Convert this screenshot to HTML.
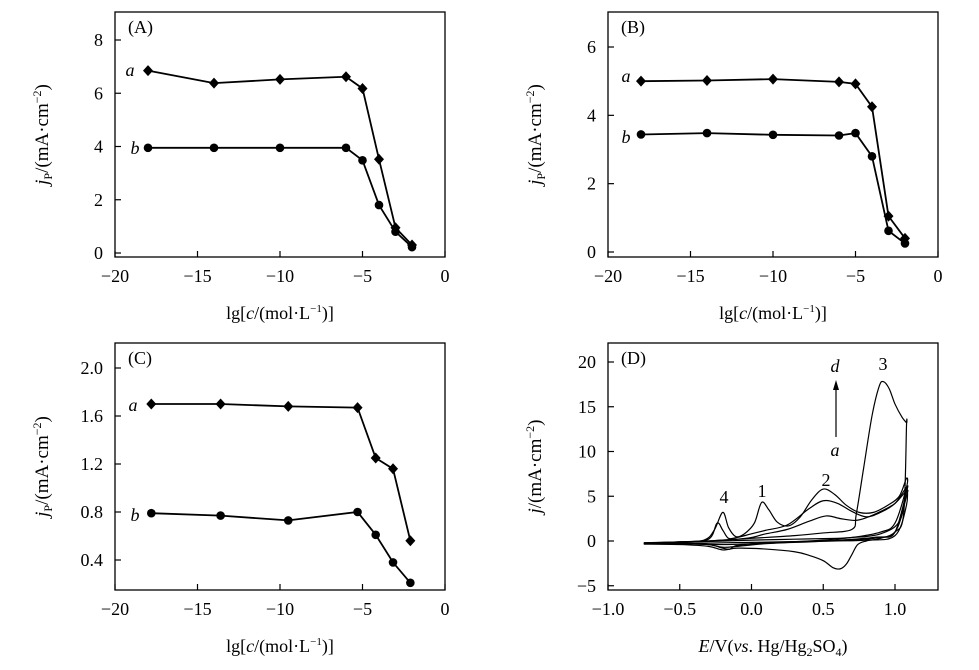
<!DOCTYPE html>
<html><head><meta charset="utf-8">
<style>
html,body{margin:0;padding:0;background:#fff;}
svg{display:block;font-family:"Liberation Serif",serif;}
</style></head>
<body>
<svg id="fig" width="979" height="670" viewBox="0 0 979 670" xmlns="http://www.w3.org/2000/svg"></svg>
<script>
// ---- Panel data ----
const xA = [-18,-14,-10,-6,-5,-4,-3,-2];
const aA = [6.85,6.38,6.52,6.62,6.18,3.52,0.95,0.3];
const bA = [3.95,3.95,3.95,3.95,3.48,1.8,0.8,0.22];
const xB = [-18,-14,-10,-6,-5,-4,-3,-2];
const aB = [5.0,5.02,5.06,4.98,4.92,4.25,1.05,0.4];
const bB = [3.44,3.48,3.43,3.41,3.48,2.8,0.62,0.25];
const xC = [-17.8,-13.6,-9.5,-5.3,-4.2,-3.15,-2.1];
const aC = [1.7,1.7,1.68,1.67,1.25,1.16,0.56];
const bC = [0.79,0.77,0.73,0.80,0.61,0.38,0.21];
const ticksXlg = [-20,-15,-10,-5,0];
const ticksYA = [0,2,4,6,8];
const ticksYB = [0,2,4,6];
const ticksYC = [0.4,0.8,1.2,1.6,2.0];
const ticksXD = [-1.0,-0.5,0,0.5,1.0];
const ticksYD = [-5,0,5,10,15,20];
// CV curves (E in V, j in mA/cm2)
const cvE1 = [-0.75,-0.5,-0.3,0,0.3,0.5,0.7,0.73,0.78,0.84,0.89,0.92,0.96,1.0,1.05,1.08,1.08,1.06,1.0,0.9,0.8,0.74,0.7,0.66,0.62,0.57,0.5,0.4,0.3,0.1,-0.1,-0.2,-0.3,-0.5,-0.75];
const cvJ1 = [-0.3,-0.2,0,0.3,0.6,0.9,1.3,3,8,14,17.3,17.8,17,15.3,13.8,13.2,12.8,3,1,0.3,0,-0.4,-1.5,-2.6,-3.1,-3,-2.2,-1.6,-1.2,-0.9,-0.8,-1,-0.6,-0.4,-0.35];
const cvE2 = [-0.75,-0.5,-0.33,-0.26,-0.2,-0.16,-0.11,-0.05,0.02,0.07,0.12,0.18,0.26,0.34,0.42,0.5,0.58,0.66,0.75,0.85,0.95,1.03,1.08,1.08,1.0,0.9,0.7,0.4,0.1,-0.1,-0.15,-0.2,-0.3,-0.5,-0.75];
const cvJ2 = [-0.2,-0.1,0.1,1.2,3.2,1.5,0.5,0.8,2,4.3,3.5,2.1,1.7,2.7,4.6,5.8,5.2,4,3.2,3.2,4,5,7,6,2,1,0.4,0,-0.2,-0.5,-0.9,-0.8,-0.4,-0.3,-0.3];
const cvE3 = [-0.75,-0.5,-0.3,-0.24,-0.2,-0.16,-0.1,0,0.1,0.25,0.4,0.5,0.6,0.7,0.8,0.9,1.0,1.08,1.08,1.0,0.9,0.7,0.4,0.1,-0.1,-0.2,-0.3,-0.5,-0.75];
const cvJ3 = [-0.2,-0.1,0.2,2,1.2,0.3,0.4,0.8,1.2,1.8,3.6,4.5,4.2,3.3,2.7,3.2,4.2,6,5.5,1,0.4,0.1,-0.1,-0.3,-0.6,-0.7,-0.4,-0.3,-0.3];
const cvE4 = [-0.75,-0.5,-0.3,-0.2,-0.1,0,0.1,0.25,0.4,0.52,0.62,0.72,0.8,0.9,1.0,1.08,1.08,1.0,0.85,0.6,0.3,0,-0.2,-0.5,-0.75];
const cvJ4 = [-0.25,-0.1,0,0.1,0.2,0.4,0.8,1.3,2.2,2.8,2.5,2.3,2.6,3.3,4.2,5.6,5,1,0.4,0.1,-0.1,-0.3,-0.4,-0.3,-0.3];
const cvE5 = [-0.75,-0.4,0,0.3,0.6,0.7,0.8,0.9,1.0,1.05,1.08,1.08,1.0,0.8,0.5,0.2,-0.2,-0.5,-0.75];
const cvJ5 = [-0.2,-0.1,0.1,0.2,0.3,0.4,0.5,0.8,1.6,3,6,4,0.6,0.1,0,-0.1,-0.2,-0.3,-0.3];

const NS = "http://www.w3.org/2000/svg";
const svg = document.getElementById('fig');
function mk(tag, attrs, parent, txt){
  const e = document.createElementNS(NS, tag);
  for (const k in attrs) e.setAttribute(k, attrs[k]);
  if (txt !== undefined) e.textContent = txt;
  (parent || svg).appendChild(e);
  return e;
}
function scale(d0,d1,r0,r1){ return v => r0 + (v-d0)*(r1-r0)/(d1-d0); }
function fmt(v, dec){ const s = Math.abs(v).toFixed(dec); return (v<0?'\u2212':'') + s; }

function panel(p){
  const g = mk('g', {});
  
  
  const sx = scale(p.xd[0], p.xd[1], p.xp[0], p.xp[1]);
  const sy = scale(p.yd[0], p.yd[1], p.yp[0], p.yp[1]);
  const fr = mk('rect', {x:p.L, y:p.T, width:p.R-p.L, height:p.B-p.T, fill:'none', stroke:'#000', 'stroke-width':1.3}, g);
  
  
  p.xt.forEach(v => {
    const x = sx(v);
    mk('line', {x1:x, x2:x, y1:p.B, y2:p.B-6, stroke:'#000', 'stroke-width':1.2}, g);
    const t = mk('text', {x:x, y:p.B+25, 'text-anchor':'middle', 'font-size':18}, g, fmt(v, p.xdec));
    
    
  });
  p.yt.forEach(v => {
    const y = sy(v);
    mk('line', {x1:p.L, x2:p.L+6, y1:y, y2:y, stroke:'#000', 'stroke-width':1.2}, g);
    const t = mk('text', {x:p.L-12, y:y+6, 'text-anchor':'end', 'font-size':18}, g, fmt(v, p.ydec));
    
    
  });
  const lbl = mk('text', {x:p.L+13, y:p.T+21, 'font-size':18}, g, p.letter);
  
  
  const xt = mk('text', {x:(p.L+p.R)/2, y:p.B+62, 'text-anchor':'middle', 'font-size':18}, g);
  
  
  if (p.cv){
    mk('tspan', {'font-style':'italic'}, xt, 'E');
    mk('tspan', {}, xt, '/V(');
    mk('tspan', {'font-style':'italic'}, xt, 'vs');
    mk('tspan', {}, xt, '. Hg/Hg');
    mk('tspan', {'font-size':12, dy:4}, xt, '2');
    mk('tspan', {dy:-4}, xt, 'SO');
    mk('tspan', {'font-size':12, dy:4}, xt, '4');
    mk('tspan', {dy:-4}, xt, ')');
  } else {
    mk('tspan', {}, xt, 'lg[');
    mk('tspan', {'font-style':'italic'}, xt, 'c');
    mk('tspan', {}, xt, '/(mol\u00b7L');
    mk('tspan', {'font-size':11, dy:-7}, xt, '\u22121');
    mk('tspan', {dy:7}, xt, ')]');
  }
  const cy = (p.T+p.B)/2, cx = p.L-67;
  const yt = mk('text', {x:cx, y:cy, 'text-anchor':'middle', 'font-size':19, transform:`rotate(-90 ${cx} ${cy})`}, g);
  
  
  mk('tspan', {'font-style':'italic'}, yt, 'j');
  if (!p.cv){ mk('tspan', {'font-size':12, dy:4}, yt, 'P'); mk('tspan', {dy:-4}, yt, '/(mA\u00b7cm'); }
  else mk('tspan', {}, yt, '/(mA\u00b7cm');
  mk('tspan', {'font-size':12, dy:-7}, yt, '\u22122');
  mk('tspan', {dy:7}, yt, ')');
  return {g, sx, sy};
}

function series(P, xs, ys, marker, name){
  const pts = xs.map((x,i)=>[P.sx(x), P.sy(ys[i])]);
  const pl = mk('polyline', {points: pts.map(p=>p.join(',')).join(' '), fill:'none', stroke:'#000', 'stroke-width':1.8}, P.g);
  
  
  pts.forEach(([x,y]) => {
    let m;
    if (marker === 'd') m = mk('polygon', {points:`${x},${y-5.5} ${x+5},${y} ${x},${y+5.5} ${x-5},${y}`, fill:'#000'}, P.g);
    else m = mk('circle', {cx:x, cy:y, r:4.3, fill:'#000'}, P.g);
    
    
  });
}
function label(P, x, y, t, name, italic){
  const e = mk('text', {x, y, 'font-size':18, 'font-style': italic ? 'italic':'normal', 'text-anchor':'middle'}, P.g, t);
  
  
}

// Panel A
const PA = panel({name:'panel-a', L:115, R:445, T:12, B:257, xd:[-20,0], xp:[115,445], yd:[0,8], yp:[253,40], xt:ticksXlg, yt:ticksYA, xdec:0, ydec:0, letter:'(A)'});
series(PA, xA, aA, 'd', 'series-a');
series(PA, xA, bA, 'c', 'series-b');
label(PA, 130, 76, 'a', 'series-a-label', true);
label(PA, 135, 154, 'b', 'series-b-label', true);

// Panel B
const PB = panel({name:'panel-b', L:608, R:938, T:12, B:257, xd:[-20,0], xp:[608,938], yd:[0,6], yp:[252,47], xt:ticksXlg, yt:ticksYB, xdec:0, ydec:0, letter:'(B)'});
series(PB, xB, aB, 'd', 'series-a');
series(PB, xB, bB, 'c', 'series-b');
label(PB, 626, 82, 'a', 'series-a-label', true);
label(PB, 626, 143, 'b', 'series-b-label', true);

// Panel C
const PC = panel({name:'panel-c', L:115, R:445, T:343, B:590, xd:[-20,0], xp:[115,445], yd:[0.4,2.0], yp:[560,368], xt:ticksXlg, yt:ticksYC, xdec:0, ydec:1, letter:'(C)'});
series(PC, xC, aC, 'd', 'series-a');
series(PC, xC, bC, 'c', 'series-b');
label(PC, 133, 411, 'a', 'series-a-label', true);
label(PC, 135, 521, 'b', 'series-b-label', true);

// Panel D
const PD = panel({name:'panel-d', L:608, R:938, T:343, B:590, xd:[-1,1], xp:[608,895], yd:[0,20], yp:[541,362], xt:ticksXD, yt:ticksYD, xdec:1, ydec:0, letter:'(D)', cv:true});
function smoothPath(P, xs, ys){
  const p = xs.map((x,i)=>[P.sx(x), P.sy(ys[i])]);
  let d = `M${p[0][0]},${p[0][1]}`;
  for (let i=0;i<p.length-1;i++){
    const p0 = p[Math.max(0,i-1)], p1=p[i], p2=p[i+1], p3=p[Math.min(p.length-1,i+2)];
    const c1=[p1[0]+(p2[0]-p0[0])/6, p1[1]+(p2[1]-p0[1])/6];
    const c2=[p2[0]-(p3[0]-p1[0])/6, p2[1]-(p3[1]-p1[1])/6];
    d += ` C${c1[0]},${c1[1]} ${c2[0]},${c2[1]} ${p2[0]},${p2[1]}`;
  }
  return d;
}
[[cvE1,cvJ1,'cv-curve-d'],[cvE2,cvJ2,'cv-curve-c'],[cvE3,cvJ3,'cv-curve-b'],[cvE4,cvJ4,'cv-curve-a'],[cvE5,cvJ5,'cv-curve-blank']].forEach(([e,j,n])=>{
  const path = mk('path', {d:smoothPath(PD,e,j), fill:'none', stroke:'#000', 'stroke-width':1.2}, PD.g);
  
  
});
label(PD, 835, 372, 'd', 'curve-d-label', true);
label(PD, 835, 456, 'a', 'curve-a-label', true);
const ar = mk('line', {x1:836, y1:437, x2:836, y2:388, stroke:'#000', 'stroke-width':1.2}, PD.g);


mk('polygon', {points:'836,380 833,390 839,390', fill:'#000'}, PD.g);
label(PD, 724, 503, '4', 'peak-4-label', false);
label(PD, 762, 497, '1', 'peak-1-label', false);
label(PD, 826, 486, '2', 'peak-2-label', false);
label(PD, 883, 370, '3', 'peak-3-label', false);
</script>
</body></html>
